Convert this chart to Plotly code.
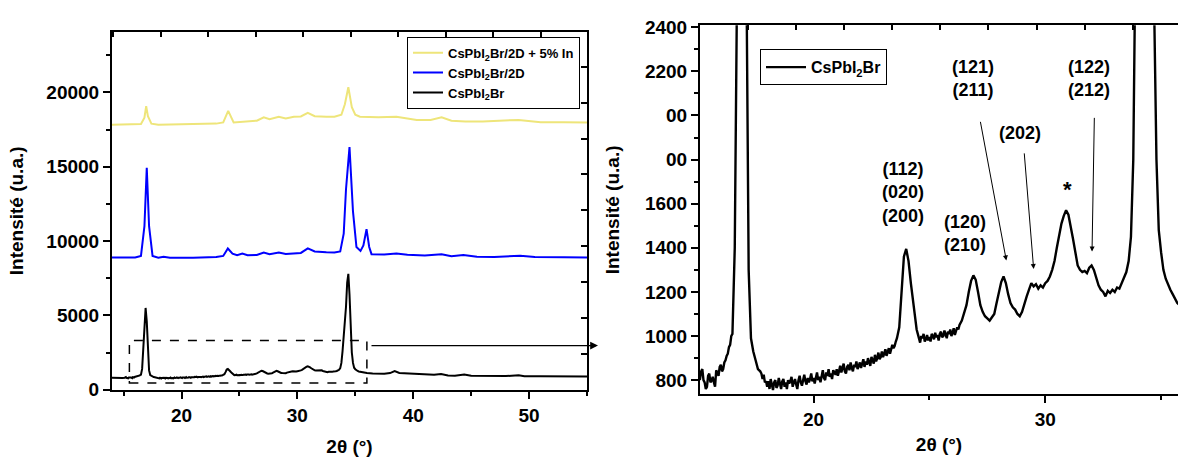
import plotly.graph_objects as go

# ---------------- data ----------------
black_x = [14.0, 14.3, 14.6, 14.9,
           15.1, 15.15, 15.2, 15.25, 15.3, 15.35, 15.4, 15.45, 15.5, 15.55, 15.6, 15.65, 15.7, 15.75, 15.8, 15.85, 15.9, 15.95,
           16.0, 16.05, 16.1, 16.15, 16.2, 16.25, 16.3, 16.35, 16.4, 16.45,
           16.5, 16.6, 16.7, 16.8, 16.9, 17.0, 17.1, 17.2, 17.3, 17.4, 17.5, 17.6, 17.7,
           17.75, 17.8, 17.85, 17.9, 17.95,
           18.0, 18.05, 18.1, 18.15, 18.2, 18.25, 18.3, 18.35, 18.4, 18.45, 18.5, 18.55, 18.6, 18.65, 18.7, 18.75, 18.8, 18.85, 18.9, 18.95,
           19.0, 19.05, 19.1, 19.15, 19.2, 19.25, 19.3, 19.35, 19.4, 19.45, 19.5, 19.55, 19.6, 19.65, 19.7, 19.75, 19.8, 19.85, 19.9, 19.95,
           20.0, 20.05, 20.1, 20.15, 20.2, 20.25, 20.3, 20.35, 20.4, 20.45, 20.5, 20.55, 20.6, 20.65, 20.7, 20.75, 20.8, 20.85, 20.9, 20.95,
           21.0, 21.05, 21.1, 21.15, 21.2, 21.25, 21.3, 21.35, 21.4, 21.45, 21.5, 21.55, 21.6, 21.65, 21.7, 21.75, 21.8, 21.85, 21.9, 21.95,
           22.0, 22.05, 22.1, 22.15, 22.2, 22.25, 22.3, 22.35, 22.4, 22.45, 22.5, 22.55, 22.6, 22.65, 22.7, 22.75, 22.8, 22.85, 22.9, 22.95,
           23.0, 23.05, 23.1, 23.15, 23.2, 23.25, 23.3, 23.35, 23.4, 23.45, 23.5, 23.55, 23.6,
           23.7, 23.8, 23.9, 24.0, 24.1, 24.2, 24.3, 24.4, 24.45,
           24.5, 24.55, 24.6, 24.65, 24.7, 24.75, 24.8, 24.85, 24.9, 24.95,
           25.0, 25.05, 25.1, 25.15, 25.2, 25.25, 25.3, 25.35, 25.4, 25.45, 25.5, 25.55, 25.6, 25.65, 25.7, 25.75, 25.8, 25.85, 25.9, 25.95,
           26.0, 26.05, 26.1, 26.15, 26.2, 26.25, 26.3,
           26.4, 26.5, 26.6, 26.7, 26.8, 26.9, 27.0, 27.1, 27.2, 27.3, 27.4, 27.5, 27.6, 27.7, 27.8, 27.9,
           28.0, 28.1, 28.2, 28.3, 28.4, 28.5, 28.6, 28.7, 28.8, 28.9, 29.0, 29.1, 29.2, 29.3, 29.4, 29.5, 29.6, 29.7, 29.8, 29.9,
           30.0, 30.1, 30.2, 30.3, 30.4, 30.5, 30.6, 30.7, 30.8, 30.9, 31.0, 31.1, 31.2, 31.3, 31.4, 31.5, 31.6, 31.7, 31.8, 31.9,
           32.0, 32.1, 32.2, 32.3, 32.4, 32.5, 32.6, 32.7, 32.8, 32.9, 33.0, 33.1, 33.2, 33.3, 33.4, 33.5, 33.6, 33.7, 33.8, 33.9,
           34.0, 34.1, 34.2, 34.3, 34.4, 34.5, 34.6, 34.7, 34.8, 34.9, 35.0, 35.1, 35.2, 35.3, 35.4, 35.5, 35.6, 35.7, 35.8,
           36.0, 36.5, 37.0, 37.5, 38.0, 38.4, 38.8, 39.5, 40.0, 41.0, 41.8, 42.4, 43.0, 43.6, 44.4, 45.0, 46.0, 47.0,
           48.0, 49.1, 49.6, 51.0, 53.0, 55.0]
black_y = [800, 780, 810, 790,
           805, 840, 850, 800, 790, 760, 770, 820, 830, 790, 800, 815, 790, 770, 845, 830, 820, 860,
           870, 840, 850, 880, 890, 910, 920, 950, 960, 1000,
           1010, 1400, 2600, 4400, 5500, 4600, 2700, 1300, 990, 930, 890, 850, 840,
           830, 805, 825, 790, 795,
           770, 795, 760, 805, 780, 755, 790, 800, 765, 775, 810, 785, 760, 795, 805, 770, 790, 760, 800, 785,
           795, 815, 770, 790, 805, 780, 760, 800, 820, 790, 775, 800, 825, 795, 780, 810, 790, 805, 830, 795,
           810, 785, 820, 835, 800, 815, 790, 825, 845, 810, 800, 835, 820, 850, 815, 830, 805, 845, 835, 825,
           850, 820, 840, 865, 835, 850, 875, 840, 830, 860, 870, 845, 880, 855, 840, 870, 860, 885, 850, 865,
           880, 855, 870, 895, 860, 885, 870, 900, 880, 865, 905, 890, 875, 915, 885, 900, 925, 895, 905, 930,
           905, 920, 940, 910, 930, 945, 920, 935, 960, 945, 955, 975, 990,
           1040, 1180, 1360, 1395, 1340, 1240, 1150, 1060, 1030,
           1010, 985, 970, 1000, 990, 1010, 975, 985, 1005, 980,
           995, 975, 1010, 1000, 985, 1015, 995, 1005, 980, 1010, 1020, 995, 1000, 1025, 1005, 990, 1020, 1010, 1030, 1000,
           1015, 1035, 1005, 1025, 1040, 1030, 1050,
           1070, 1100, 1140, 1200, 1250, 1275, 1255, 1200, 1140, 1110, 1090, 1080, 1070, 1085, 1100, 1150,
           1200, 1245, 1270, 1240, 1190, 1150, 1130, 1120, 1100, 1090, 1110, 1150, 1180, 1210, 1240, 1225, 1235, 1215, 1230, 1220,
           1240, 1250, 1270, 1300, 1340, 1400, 1460, 1510, 1545, 1570, 1550, 1500, 1440, 1380, 1320, 1300, 1290, 1295, 1285, 1310,
           1320, 1300, 1260, 1230, 1210, 1200, 1180, 1205, 1195, 1210, 1200, 1220, 1215, 1240, 1260, 1290, 1340, 1450, 1800, 2600,
           3700, 4200, 5600, 7200, 7800, 6400, 4000, 2500, 1800, 1480, 1380, 1300, 1260, 1230, 1210, 1190, 1170, 1150, 1140,
           1120, 1090, 1080, 1080, 1120, 1250, 1130, 1100, 1060, 1010, 1000, 1060, 950, 940, 1030, 940, 920, 910,
           920, 970, 910, 905, 900, 895]

blue_x = [14.0, 16.0, 16.5, 16.8, 17.0, 17.2, 17.5, 18.0, 18.45, 19.0, 21.0, 23.0, 23.6, 24.0, 24.4, 24.8, 25.25,
          25.7, 26.5, 27.1, 27.6, 28.4, 29.0, 29.7, 30.3, 30.9, 31.5, 32.5, 33.2, 33.7, 34.0, 34.2, 34.5, 34.8,
          35.1, 35.45, 35.7, 35.97, 36.2, 36.4, 37.5, 38.55, 39.5, 41.0, 42.45, 43.3, 44.33, 45.5, 47.0, 49.24,
          50.5, 53.0, 55.0]
blue_y = [8900, 8900, 9000, 11000, 14925, 11000, 9000, 8880, 8950, 8870, 8880, 8920, 9000, 9500, 9150, 9050, 9160,
          9050, 9060, 9226, 9120, 9226, 9130, 9180, 9200, 9503, 9300, 9240, 9226, 9300, 10500, 13500, 16323, 12000,
          9600, 9333, 9700, 10796, 9600, 9118, 9100, 9160, 9080, 9030, 9118, 8980, 9054, 8950, 8930, 9010,
          8920, 8910, 8900]

yellow_x = [14.0, 16.0, 16.5, 16.8, 16.95, 17.1, 17.4, 18.0, 20.0, 23.0, 23.6, 24.03, 24.5, 25.5, 26.5, 27.1, 27.6,
            28.4, 29.0, 29.7, 30.3, 30.9, 31.5, 32.5, 33.2, 33.8, 34.1, 34.4, 34.7, 35.0, 35.4, 37.0, 38.55, 40.3,
            41.5, 42.45, 43.3, 44.5, 46.0, 49.1, 51.0, 53.0, 55.0]
yellow_y = [17828, 17830, 17880, 18300, 19075, 18400, 17900, 17830, 17860, 17900, 17978, 18753, 17978, 18020, 18100,
            18323, 18200, 18366, 18250, 18366, 18380, 18624, 18400, 18366, 18366, 18500, 19200, 20344, 19000, 18500,
            18366, 18330, 18366, 18150, 18150, 18323, 18100, 18043, 18050, 18150, 18000, 18000, 17978]

series_names = ["CsPbI<sub>2</sub>Br", "CsPbI<sub>2</sub>Br/2D", "CsPbI<sub>2</sub>Br/2D + 5% In"]
series_colors = ["#000000", "#0000FF", "#EEE57A"]

left_xticks = [20, 30, 40, 50]
left_yticks = [0, 5000, 10000, 15000, 20000]
left_yticklabels = ["0", "5000", "10000", "15000", "20000"]
right_xticks = [20, 30]
right_yticks = [800, 1000, 1200, 1400, 1600, 1800, 2000, 2200, 2400]
right_yticklabels = ["800", "1000", "1200", "1400", "1600", "00", "00", "2200", "2400"]

# hkl labels of the zoomed panel: text, center x, center y
hkl_text = ["(112)<br>(020)<br>(200)", "(120)<br>(210)", "(121)<br>(211)", "(202)", "*", "(122)<br>(212)"]
hkl_x = [23.84, 26.53, 26.87, 28.92, 30.95, 31.88]
hkl_y = [1652, 1465, 2167, 1922, 1665, 2167]
# arrows: tail (start) and head (end)
arr_x0 = [27.19, 29.09, 32.12]
arr_y0 = [1978, 1835, 1996]
arr_x1 = [28.32, 29.50, 32.02]
arr_y1 = [1343, 1304, 1383]

# ---------------- figure ----------------
W, H = 1178, 464
FONT = "Liberation Sans"

def fnt(size, color="black"):
    return dict(family=FONT, size=size, color=color, weight="bold")

fig = go.Figure()

for xs, ys, nm, col in [(black_x, black_y, series_names[0], series_colors[0]),
                        (blue_x, blue_y, series_names[1], series_colors[1]),
                        (yellow_x, yellow_y, series_names[2], series_colors[2])]:
    fig.add_trace(go.Scatter(x=xs, y=ys, name=nm, mode="lines",
                             line=dict(color=col, width=2), xaxis="x", yaxis="y", legend="legend"))

fig.add_trace(go.Scatter(x=black_x, y=black_y, name=series_names[0], mode="lines",
                         line=dict(color="black", width=2.4), xaxis="x2", yaxis="y2", legend="legend2"))

# helper empty traces so overlay tick axes get drawn
fig.add_trace(go.Scatter(x=[None], y=[None], xaxis="x3", yaxis="y", showlegend=False, hoverinfo="skip"))
fig.add_trace(go.Scatter(x=[None], y=[None], xaxis="x", yaxis="y3", showlegend=False, hoverinfo="skip"))
fig.add_trace(go.Scatter(x=[None], y=[None], xaxis="x4", yaxis="y2", showlegend=False, hoverinfo="skip"))

L_x0, L_x1 = 112 / W, 587 / W
L_y0, L_y1 = 1 - 398 / H, 1 - 25 / H
R_x0, R_x1 = 700 / W, 1.0
R_y0, R_y1 = 1 - 403 / H, 1 - 18 / H

axis_common = dict(showline=True, linecolor="black", linewidth=2, showgrid=False, zeroline=False,
                   ticks="outside", ticklen=7, tickwidth=2, tickcolor="black", tickfont=fnt(19))

L_xrange = [14, 55]
L_yrange = [0, 24065]
R_xrange = [15.1, 35.73]
R_yrange = [735, 2409]

fig.update_layout(
    width=W, height=H, margin=dict(l=0, r=0, t=0, b=0),
    plot_bgcolor="white", paper_bgcolor="white",
    xaxis=dict(domain=[L_x0, L_x1], anchor="y", range=L_xrange, tickvals=left_xticks, mirror=True,
               minor=dict(dtick=5, tick0=0, ticks="outside", ticklen=4, tickwidth=1.5, tickcolor="black"),
               title=dict(text="2θ (°)", font=fnt(19), standoff=15), **axis_common),
    yaxis=dict(domain=[L_y0, L_y1], anchor="x", range=L_yrange, tickvals=left_yticks,
               ticktext=left_yticklabels, mirror=True,
               minor=dict(dtick=2500, tick0=0, ticks="outside", ticklen=4, tickwidth=1.5, tickcolor="black"),
               title=dict(text="Intensité (u.a.)", font=fnt(19), standoff=18), **axis_common),
    xaxis2=dict(domain=[R_x0, R_x1], anchor="y2", range=R_xrange, tickvals=right_xticks, mirror=True,
                minor=dict(dtick=5, tick0=0, ticks="outside", ticklen=4, tickwidth=1.5, tickcolor="black"),
                title=dict(text="2θ (°)", font=fnt(19), standoff=8), **axis_common),
    yaxis2=dict(domain=[R_y0, R_y1], anchor="x2", range=R_yrange, tickvals=right_yticks,
                ticktext=right_yticklabels, mirror=False,
                minor=dict(dtick=100, tick0=0, ticks="outside", ticklen=4, tickwidth=1.5, tickcolor="black"),
                title=dict(text="Intensité (u.a.)", font=fnt(19), standoff=20), **axis_common),
    xaxis3=dict(overlaying="x", side="top", anchor="y", range=L_xrange, showgrid=False, zeroline=False,
                showticklabels=False, ticks="inside", ticklen=5, tickwidth=1.5, tickcolor="black",
                tick0=18.2, dtick=4.1),
    yaxis3=dict(overlaying="y", side="right", anchor="x", range=L_yrange, showgrid=False, zeroline=False,
                showticklabels=False, ticks="inside", ticklen=6, tickwidth=1.5, tickcolor="black",
                tick0=0, dtick=2413),
    xaxis4=dict(overlaying="x2", side="top", anchor="y2", range=R_xrange, showgrid=False, zeroline=False,
                showticklabels=False, ticks="inside", ticklen=5, tickwidth=1.5, tickcolor="black",
                tick0=19.25, dtick=2.075),
    legend=dict(x=407 / W, y=1 - 30 / H, xanchor="left", yanchor="top", traceorder="reversed",
                bgcolor="white", bordercolor="black", borderwidth=1, font=fnt(13),
                itemwidth=30, tracegroupgap=0),
    legend2=dict(x=760 / W, y=1 - 43 / H, xanchor="left", yanchor="top",
                 bgcolor="white", bordercolor="black", borderwidth=1, font=fnt(16), itemwidth=40),
    showlegend=True,
)

# dashed zoom box in left panel
fig.add_shape(type="rect", xref="x", yref="y", x0=15.5, x1=36.0, y0=450, y1=3310,
              line=dict(color="black", width=1.5, dash="dash"))

# arrow linking to right panel
fig.add_annotation(xref="paper", yref="paper", x=598 / W, y=1 - 352 / H, ax=-228, ay=0,
                   axref="pixel", ayref="pixel", text="", showarrow=True, arrowhead=2,
                   arrowsize=1.2, arrowwidth=1.3, arrowcolor="black")

for t, xx, yy in zip(hkl_text, hkl_x, hkl_y):
    fig.add_annotation(xref="x2", yref="y2", x=xx, y=yy, text=t, showarrow=False,
                       font=fnt(22 if t == "*" else 18), align="center")

for x0, y0, x1, y1 in zip(arr_x0, arr_y0, arr_x1, arr_y1):
    fig.add_annotation(xref="x2", yref="y2", x=x1, y=y1, ax=x0, ay=y0, axref="x2", ayref="y2",
                       text="", showarrow=True, arrowhead=2, arrowsize=1, arrowwidth=1, arrowcolor="black")

fig.write_html("out.html", config={"displayModeBar": False},
               post_script="document.body.style.margin='0';document.body.style.overflow='hidden';")
